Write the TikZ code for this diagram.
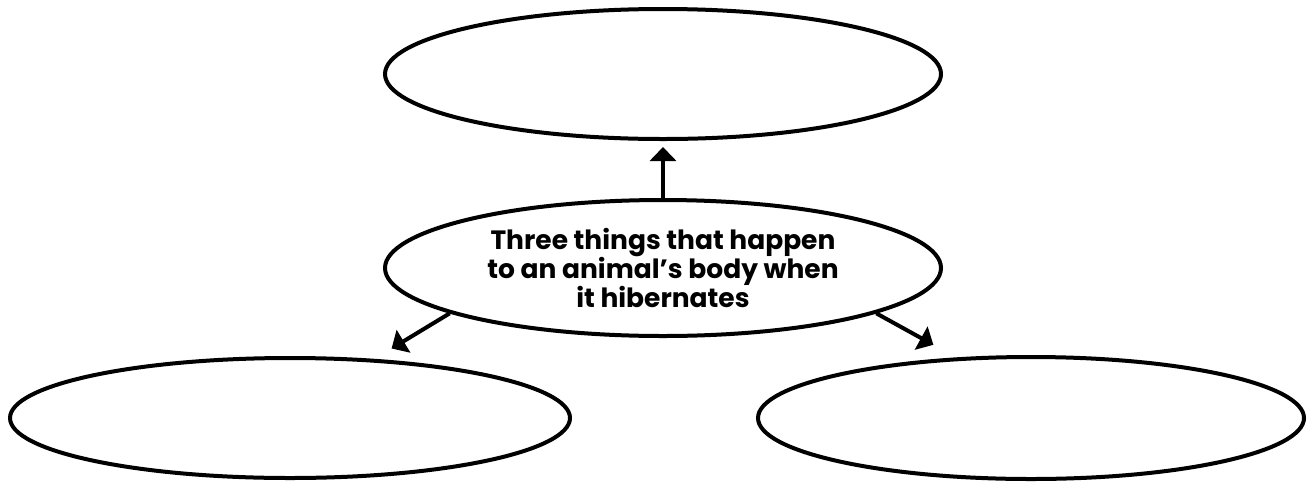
\documentclass[tikz,border=0pt]{standalone}
\usepackage{fontspec}
\setmainfont{Poppins}
\usepackage{tikz}
\usetikzlibrary{arrows.meta,positioning,shapes.geometric}

\begin{document}
\begin{tikzpicture}[
  x=1pt,y=-1pt,
  oval/.style={draw,ellipse,line width=4pt,inner sep=0pt},
  arr/.style={-{Triangle[width=26pt,length=14pt]},line width=4pt}
]
\useasboundingbox (0,0) rectangle (1308,488);
\node[oval,minimum width=556pt,minimum height=136pt,align=center,
      font=\bfseries\fontsize{26.5}{28}\selectfont] (hub) at (663,268)
  {Three things that happen\\to an animal's body when\\it hibernates};
\node[oval,minimum width=556pt,minimum height=130pt,above=57pt of hub] (topoval) {};
\node[oval,minimum width=560pt,minimum height=120pt] (leftoval) at (290,418) {};
\node[oval,minimum width=546pt,minimum height=122pt] (rightoval) at (1031,418) {};
\draw[arr,shorten >=6pt] (hub.north) -- (topoval.south);
\draw[arr,shorten >=20pt] (hub.192) -- (leftoval.35);
\draw[arr,shorten >=26pt] (hub.-12) -- (rightoval.141);
\end{tikzpicture}
\end{document}
